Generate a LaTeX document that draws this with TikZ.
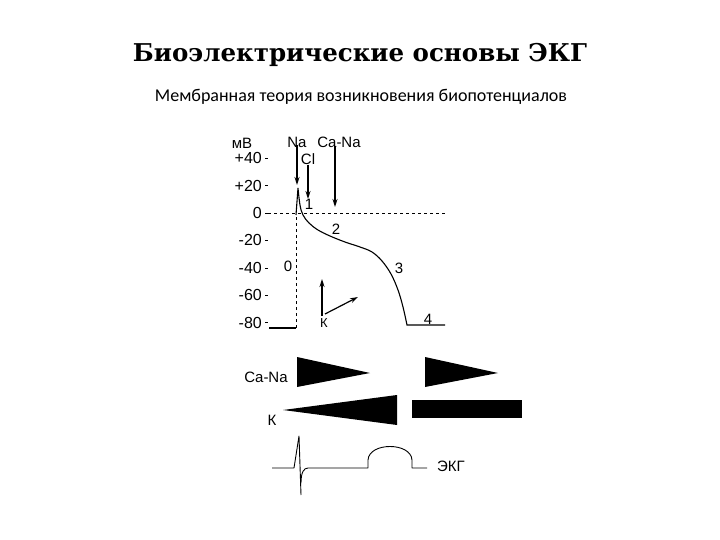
\documentclass[tikz,border=0pt]{standalone}
\usepackage{fontspec}
\usetikzlibrary{arrows.meta}
\setmainfont{Liberation Sans}
\newfontfamily\titlefont{DejaVu Serif}
\newfontfamily\subfont{Carlito}
\begin{document}
\begin{tikzpicture}[x=1pt, y=-1pt,
    lbl/.style={font=\fontsize{15}{16}\selectfont, inner sep=0pt},
    axlbl/.style={lbl, anchor=east, font=\fontsize{16}{17}\selectfont},
    ion/.style={-{Stealth[length=8pt, width=5pt]}, line width=1.2pt},
    curve/.style={line width=1.1pt},
    wedge/.style={fill=black, draw=none}]

    \useasboundingbox (0,0) rectangle (720,540);

    % headings
    \node (title) at (360,55) {\titlefont\bfseries\fontsize{24.5}{27}\selectfont Биоэлектрические основы ЭКГ};
    \node (sub) at (361,97) {\subfont\fontsize{18}{20}\selectfont Мембранная теория возникновения биопотенциалов};

    % axis
    \node (unit) [lbl] at (242,143) {мВ};
    \foreach \v/\t in {40/+40, 20/+20, 0/0, -20/-20, -40/-40, -60/-60, -80/-80} {
        \node (ax\v) [axlbl] at (262,213-1.37*\v) {\t};
        \draw (265,213-1.37*\v) -- (268,213-1.37*\v);
    }
    \draw [dashed] (268,213) -- (447,213);

    % action potential
    \draw [curve] (269,328) -- (296,328);
    \draw [dashed] (296,328) -- (296,215);
    \draw [curve] (296,215) -- (298,188)
        plot [smooth, tension=0.6] coordinates {(298,188) (300,205) (303,215) (309,223) (318,230)
            (330,236) (345,242) (360,247) (372,252) (382,261) (391,274) (398,290) (403,307) (407,325)}
        -- (445,325);

    % phases
    \node (ph0) [lbl] at (288,266) {0};
    \node (ph1) [lbl] at (309,204) {1};
    \node (ph2) [lbl] at (336,229) {2};
    \node (ph3) [lbl] at (399,268) {3};
    \node (ph4) [lbl] at (428,319) {4};

    % ion currents
    \node (na) [lbl] at (297,142) {Na};
    \node (cl) [lbl] at (308,159) {Cl};
    \node (cana) [lbl] at (339,142) {Ca-Na};
    \node (k) [lbl, font=\fontsize{13}{14}\selectfont] at (324,323) {К};
    \coordinate (naend) at (297,185);
    \coordinate (clend) at (308,199);
    \coordinate (canaend) at (335,207);
    \coordinate (kfoot) at (322,316);
    \coordinate (kfoot2) at (325,314);
    \coordinate (kup) at (322,279);
    \coordinate (kout) at (358,297);
    \draw [ion] (na.south -| naend) ++(0,-2) -- (naend);
    \draw [ion] (cl.south -| clend) -- (clend);
    \draw [ion] (cana.south -| canaend) ++(0,-2) -- (canaend);
    \draw [ion] (kfoot) -- (kup);
    \draw [ion] (kfoot2) -- (kout);

    % conductance wedges
    \node (cana2) [lbl] at (266,377) {Ca-Na};
    \node (k2) [lbl] at (272,420) {К};
    \fill [wedge] (297,357) -- (370,373) -- (297,387) -- cycle;
    \fill [wedge] (425,357) -- (498,373) -- (425,387) -- cycle;
    \fill [wedge] (283,410) -- (397,395) -- (397,425) -- cycle;
    \fill [wedge] (412,400) rectangle (522,418);

    % ECG
    \node (ekg) [lbl] at (451,466) {ЭКГ};
    \draw [line width=0.9pt, line join=round]
        (272,468) -- (294,468) -- (299,436) -- (301,495)
        (301,483) .. controls (301,472) and (304,468) .. (308,468) -- (368,468) -- (368,460)
        .. controls (369,442) and (411,442) .. (412,460) -- (412,468) -- (427,468);
\end{tikzpicture}
\end{document}
